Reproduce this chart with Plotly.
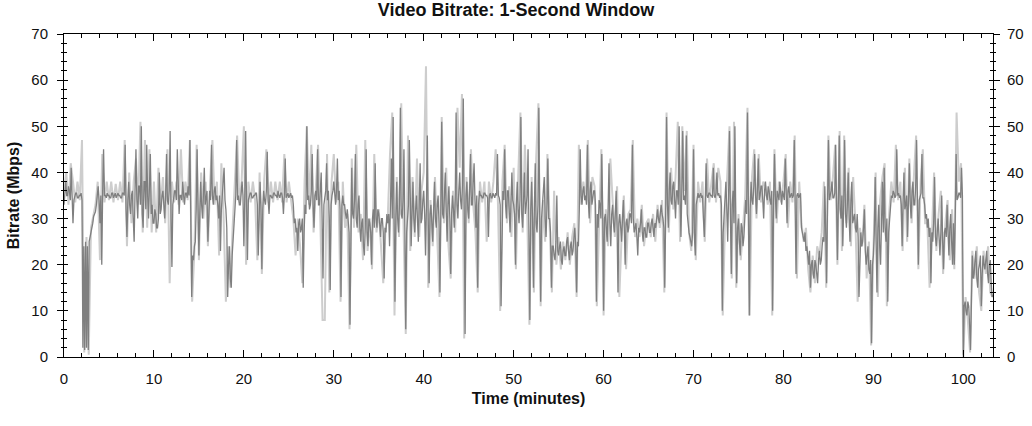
"""Video bitrate over time, 1-second window"""
import numpy as np
import plotly.graph_objects as go

# sampled every 0.1 minutes, one row per minute
SAMPLE_STEP_MIN = 0.1
bitrate_mbps = [
    33, 36, 38, 35, 35, 37, 36, 34, 41, 35,
    29, 34, 35, 35.5, 35.5, 34.5, 34.5, 35, 35, 35.5,
    34, 2, 24, 1.5, 25, 2, 24, 1.5, 25, 26,
    27, 27.5, 29, 30.5, 31, 31.5, 33, 35, 37, 34,
    29, 35, 20, 36, 45, 35, 35, 34.5, 35.5, 35,
    35, 34.5, 34.5, 35.5, 35.5, 34.5, 35, 35.5, 34.5, 35,
    35.5, 35, 35, 34.5, 34.5, 35.5, 35.5, 35, 46, 32,
    26, 34, 38, 33, 31, 35, 36, 30, 25, 36,
    45, 34, 30, 37, 37, 33, 50, 31, 28, 38,
    38, 32, 46, 35, 30, 37, 44, 31, 33, 29,
    29, 32, 31, 28, 28, 30, 40, 31, 32, 35,
    36, 33, 30, 35, 44, 34, 33, 36, 49, 30,
    19.5, 33, 35, 36, 36, 34, 45, 33, 31, 35,
    35, 34, 38, 35, 33, 35.5, 35.5, 34.5, 37, 35,
    47, 30, 13, 22, 21, 24, 25, 32, 45, 33,
    22, 31, 38, 33, 30, 35, 41, 33, 35, 36,
    25, 33, 36, 34, 46, 35, 33, 36, 37, 34,
    35, 33, 30, 35, 23, 32, 35, 36, 41, 34,
    32, 28, 13, 20, 24, 17, 15, 22, 26, 30,
    34, 35, 47, 34, 35, 33, 33, 36, 38, 35,
    24, 34, 49, 33, 21, 34, 35, 35.5, 35.5, 34.5,
    34.5, 35, 35, 35.5, 35.5, 33, 22, 34, 38, 33,
    19, 32, 36, 34, 33, 36, 44.5, 34, 31, 35,
    35, 34.5, 34.5, 35.5, 35.5, 35, 35, 34.5, 36, 35,
    34.5, 35.5, 35.5, 34.5, 31, 35, 43, 34.5, 35, 35.5,
    34.5, 35, 35.5, 34.5, 35, 33, 29, 30, 27, 28,
    23, 29, 30, 27, 28, 30, 15, 27, 33, 31,
    50, 34, 35, 32, 33, 36, 44, 33, 28, 35,
    36, 34, 45, 33, 33, 36, 40, 30, 17, 33,
    35, 36, 42, 34, 36, 30, 14.5, 33, 35, 36,
    38, 34, 33, 36, 43, 34, 36, 32, 13, 33,
    35, 33, 33, 31, 30, 32, 29, 27, 7, 30,
    41, 31, 30, 34, 44, 30, 28, 33, 35, 28,
    25, 29, 30, 24, 22, 28, 45, 27, 24, 30,
    29, 27, 20, 30, 32, 28, 42, 30, 28, 32,
    31, 29, 26, 30, 30, 27, 17, 28, 27, 31,
    29, 31, 24, 33, 43, 30, 52, 31, 12, 30,
    38, 30, 27, 33, 54, 31, 30, 34, 45, 28,
    6, 27, 30, 33, 47, 29, 24, 31, 38, 30,
    27, 32, 35, 30, 25, 33, 42, 29, 30, 34,
    36, 31, 22, 33, 48, 30, 16, 31, 33, 29,
    25, 32, 38, 30, 28, 33, 35, 29, 14, 31,
    51, 31, 30, 35, 40, 32, 25, 33, 37, 30,
    18, 31, 35, 32, 28, 34, 53, 33, 30, 36,
    40, 34, 32, 37, 56, 33, 5, 35, 38, 32,
    30, 36, 44, 33, 33, 38, 42, 34, 28, 35,
    15, 33, 36, 35, 35, 34.5, 34.5, 35.5, 35.5, 35,
    35, 34.5, 26, 35, 35.5, 34.5, 34.5, 35.5, 35, 34.5,
    35.5, 35, 44, 35, 34.5, 33, 11, 32, 36, 34,
    45, 33, 30, 36, 36, 32, 27, 33, 40, 34,
    33, 31, 20, 33, 38, 32, 29, 34, 52, 31,
    28, 34, 40, 31, 33, 35, 45, 30, 8, 32,
    38, 30, 15, 32, 42, 29, 27, 33, 54, 30,
    12, 30, 33, 35, 39, 30, 26, 32, 43, 30,
    30, 27, 15, 24, 24, 22, 21, 25, 35, 23,
    22, 24, 25, 21, 20, 23, 24, 22, 22, 25,
    26, 23, 21, 24, 25, 22, 23, 26, 28, 24,
    14, 25, 24, 32, 45, 35, 33, 36, 37, 34,
    35, 33, 46, 34, 30, 36, 38, 33, 35, 36,
    36, 33, 12, 31, 28, 34, 33, 30, 44, 32,
    10, 30, 31, 27, 25, 32, 42, 29, 24, 31,
    33, 29, 27, 31, 36, 28, 14, 29, 31, 28,
    25, 30, 34, 28, 20, 29, 30, 27, 28, 31,
    31, 29, 46, 30, 27, 28, 29, 26, 22, 28,
    27, 29, 32, 27, 25, 28, 28, 26, 26, 29,
    29, 27, 27, 29, 30, 28, 26, 29, 28, 30,
    32, 30, 29, 31, 33, 31, 30, 28, 15, 30,
    52, 33, 28, 36, 40, 34, 33, 37, 38, 34,
    30, 36, 36, 33, 50, 35, 26, 36, 49, 34,
    35, 33, 48, 31, 28, 27, 26, 25, 24, 27,
    45, 26, 22, 33, 35, 35.5, 34.5, 35, 35.5, 34.5,
    35, 30, 26, 33, 42, 35, 34.5, 35.5, 35.5, 35,
    35, 34.5, 41, 35, 34.5, 35.5, 40, 35, 35.5, 34.5,
    35, 33, 10, 27, 30, 34, 38, 32, 25, 35,
    49, 31, 18, 33, 36, 29, 50, 30, 16, 28,
    30, 25, 22, 29, 28, 24, 26, 30, 34, 31,
    53, 33, 9, 32, 38, 34, 33, 37, 44, 35,
    31, 36, 43, 34, 35, 37, 37, 34, 30, 36,
    38, 35, 34, 37, 36, 34, 33, 36, 10, 34,
    44, 35, 30, 36, 35, 34, 38, 35, 33, 36,
    35, 34, 43, 35, 29, 36, 37, 34.5, 35, 35.5,
    34.5, 35, 47, 33, 18, 35, 35.5, 34.5, 35, 35.5,
    28, 27, 26, 25, 27, 23, 24, 22, 20, 23,
    15, 20, 21, 18, 17, 21, 20, 18, 16, 21,
    23, 20, 21, 24, 26, 25, 37, 27, 16, 33,
    47, 34, 35, 36, 38, 34.5, 34.5, 35.5, 46, 34,
    21, 33, 48, 32, 30, 35, 24, 33, 47, 31,
    28, 33, 40, 30, 25, 34, 38, 29, 30, 31,
    28, 27, 31, 26, 13, 25, 27, 24, 25, 28,
    32, 23, 20, 22, 24, 19, 18, 21, 3, 20,
    22, 27, 39, 25, 14, 28, 33, 24, 20, 29,
    38, 27, 41, 28, 25, 30, 12, 27, 30, 33,
    35, 34.5, 36, 35.5, 34.5, 35, 45, 35, 35.5, 34.5,
    35, 33, 24, 34, 40, 32, 33, 35, 26, 34,
    42, 33, 30, 36, 38, 33, 33, 37, 47, 34,
    20, 34, 35, 35.5, 44, 34.5, 34.5, 33, 30, 31,
    28, 30, 26, 28, 16, 27, 25, 29, 39, 26,
    24, 28, 30, 26, 22, 27, 35, 25, 19, 27,
    28, 26, 33, 27, 22, 28, 31, 25, 20, 29,
    20, 30, 44, 34, 34.5, 35.5, 35.5, 34.5, 41, 35,
    0.5, 11, 12, 10, 9, 12, 11, 7, 1.5, 12,
    22, 17, 18, 21, 23, 17, 15, 19, 20, 22,
    11, 18, 22, 20, 19, 21, 23, 18, 16, 20,
    21, 16, 13, 13.5,
]

# peak envelope (light trace), sampled every 0.25 minutes
PEAK_STEP_MIN = 0.25
peak_mbps = [
    36, 40, 33, 42,
    38, 33.5, 38, 34,
    47, 1, 26, 0.5,
    28, 31, 33, 38,
    21, 44, 33.5, 38,
    34, 38, 33.5, 37.5,
    34, 38, 33.5, 47,
    24, 40, 29, 38,
    43, 33, 51, 27,
    47, 28, 45, 27,
    38, 27, 41, 33,
    39, 29, 45, 16,
    38, 33.5, 38, 33,
    45, 33.5, 38, 34,
    47, 12, 23, 46,
    21, 40, 30, 38,
    24, 38, 47, 33,
    38, 22, 42, 30,
    12, 24, 15, 28,
    38, 48, 33.5, 38,
    50, 20, 38, 33.5,
    38, 34, 21, 40,
    18, 38, 45, 33.5,
    38, 33.5, 38, 34,
    38, 33.5, 44, 33.5,
    38, 34, 30, 22,
    30, 24, 16, 38,
    50, 33, 46, 27,
    38, 46, 30, 8,
    8, 44, 14, 38,
    44, 33.5, 38, 12,
    38, 28, 31, 6,
    43, 28, 46, 27,
    31, 21, 47, 23,
    30, 19, 44, 27,
    32, 25, 16, 28,
    30, 44, 53, 9,
    39, 26, 55, 29,
    5, 48, 23, 39,
    26, 43, 26, 36,
    40, 63, 15, 34,
    24, 39, 27, 13,
    52, 29, 41, 24,
    17, 36, 27, 54,
    41, 57, 4, 39,
    29, 45, 33, 27,
    14, 38, 33.5, 38,
    25, 38, 33.5, 38,
    45, 33.5, 10, 38,
    46, 29, 37, 26,
    41, 19, 39, 53,
    27, 46, 32, 7,
    39, 14, 43, 55,
    11, 34, 25, 44,
    29, 14, 36, 20,
    26, 19, 25, 21,
    27, 20, 26, 29,
    13, 46, 33, 38,
    34, 47, 29, 39,
    37, 11, 29, 45,
    9, 32, 24, 43,
    34, 26, 37, 13,
    26, 35, 19, 31,
    32, 47, 26, 30,
    26, 33, 24, 29,
    30, 26, 31, 25,
    33, 28, 34, 14,
    53, 27, 41, 32,
    39, 51, 25, 50,
    36, 49, 27, 23,
    46, 21, 38, 33.5,
    38, 25, 43, 33.5,
    38, 42, 33.5, 41,
    38, 9, 29, 39,
    50, 17, 51, 15,
    31, 21, 29, 35,
    54, 9, 39, 45,
    30, 44, 33.5, 38,
    37, 33, 38, 9,
    45, 29, 38, 33.5,
    38, 44, 28, 38,
    33.5, 48, 17, 38,
    29, 25, 28, 19,
    14, 22, 16, 24,
    22, 27, 38, 15,
    48, 34, 39, 46,
    20, 49, 23, 48,
    29, 41, 24, 39,
    29, 12, 28, 24,
    33, 17, 25, 2.5,
    23, 40, 13, 34,
    39, 42, 11, 31,
    38, 33.5, 46, 34,
    38, 23, 41, 25,
    43, 29, 39, 48,
    19, 38, 45, 29,
    29, 15, 26, 40,
    23, 31, 36, 18,
    29, 34, 21, 32,
    19, 53, 38, 42,
    0, 13, 8, 1,
    23, 17, 24, 14,
    10, 23, 18, 24,
    14, 13,
]

X_MAX = 103.3
FONT = "Liberation Sans, Arial, sans-serif"

t_main = np.arange(len(bitrate_mbps)) * SAMPLE_STEP_MIN
t_peak = np.arange(len(peak_mbps)) * PEAK_STEP_MIN

fig = go.Figure()
fig.add_trace(go.Scatter(x=t_peak, y=peak_mbps, mode="lines",
                         line=dict(color="#cdcdcd", width=2), yaxis="y"))
fig.add_trace(go.Scatter(x=t_main, y=bitrate_mbps, mode="lines",
                         line=dict(color="#7f7f7f", width=1.3), yaxis="y2"))

tickfont = dict(family=FONT, size=15, color="#111")
common_y = dict(range=[0, 70], dtick=10, showgrid=False, zeroline=False,
                showline=True, linecolor="black", linewidth=1, automargin=False,
                tickcolor="black", tickfont=tickfont, fixedrange=True)

fig.update_layout(
    width=1032, height=426,
    margin=dict(l=64, r=39, t=34, b=69),
    paper_bgcolor="white", plot_bgcolor="white",
    showlegend=False,
    title=dict(text="<b>Video Bitrate: 1-Second Window</b>",
               font=dict(family=FONT, size=18, color="#111"),
               x=0.5, xref="container", xanchor="center", y=0.992, yanchor="top"),
    xaxis=dict(range=[0, X_MAX], dtick=10, tick0=0, showgrid=False, zeroline=False,
               showline=True, linecolor="black", linewidth=1, mirror="ticks",
               automargin=False,
               ticks="inside", ticklen=7, tickcolor="black", tickfont=tickfont,
               ticklabelstandoff=8,
               minor=dict(dtick=2, tick0=0, ticks="inside", ticklen=4, tickcolor="black"),
               title=dict(text="<b>Time (minutes)</b>", standoff=6,
                          font=dict(family=FONT, size=16, color="#111"))),
    yaxis=dict(**common_y, side="left", mirror="ticks", ticks="outside", ticklen=6,
               ticklabelstandoff=6,
               minor=dict(dtick=2, ticks="outside", ticklen=2, tickcolor="black"),
               title=dict(text="<b>Bitrate (Mbps)</b>", standoff=7,
                          font=dict(family=FONT, size=16, color="#111"))),
    yaxis2=dict(**common_y, side="right", overlaying="y", mirror="ticks",
                ticks="inside", ticklen=4, ticklabelstandoff=10,
                minor=dict(dtick=2, ticks="inside", ticklen=3, tickcolor="black")),
)

# the page body has a default 8px margin; drop it so the figure fills the window
fig.write_html("out.html", config={"displayModeBar": False},
               post_script="document.body.style.margin='0';document.body.style.overflow='hidden';")
